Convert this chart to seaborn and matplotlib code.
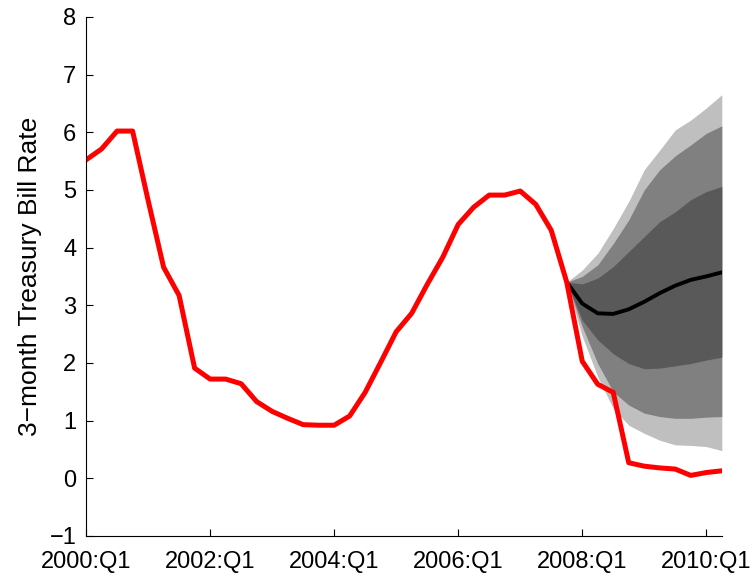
import numpy as np
import pandas as pd
import seaborn as sns
import matplotlib
matplotlib.use("Agg")
import matplotlib.pyplot as plt

# quarterly 3-month T-bill rate, 2000:Q1 .. 2010:Q2
actual = [5.52, 5.71, 6.02, 6.02, 4.82, 3.66, 3.17, 1.91,
          1.72, 1.72, 1.64, 1.33, 1.16, 1.04, 0.93, 0.92,
          0.92, 1.08, 1.49, 2.01, 2.54, 2.86, 3.36, 3.83,
          4.40, 4.70, 4.91, 4.91, 4.98, 4.75, 4.30, 3.40,
          2.03, 1.63, 1.49, 0.27, 0.21, 0.18, 0.16, 0.05,
          0.10, 0.13]

# forecast starts at 2007:Q4 (index 31)
fc_start = 31
median = [3.40, 3.03, 2.86, 2.85, 2.93, 3.06, 3.21, 3.34, 3.44, 3.50, 3.57]
light_hi = [3.40, 3.61, 3.90, 4.33, 4.80, 5.35, 5.69, 6.04, 6.21, 6.42, 6.65]
mid_hi = [3.40, 3.50, 3.70, 4.07, 4.48, 5.00, 5.35, 5.59, 5.78, 5.98, 6.11]
dark_hi = [3.40, 3.37, 3.47, 3.67, 3.93, 4.19, 4.45, 4.62, 4.83, 4.97, 5.06]
dark_lo = [3.40, 2.74, 2.40, 2.16, 1.99, 1.90, 1.91, 1.95, 1.99, 2.05, 2.10]
mid_lo = [3.40, 2.63, 1.99, 1.50, 1.27, 1.13, 1.07, 1.04, 1.04, 1.06, 1.07]
light_lo = [3.40, 2.46, 1.76, 1.21, 0.92, 0.78, 0.66, 0.58, 0.57, 0.55, 0.48]

tick_pos = [0, 8, 16, 24, 32, 40]
tick_labels = ["2000:Q1", "2002:Q1", "2004:Q1", "2006:Q1", "2008:Q1", "2010:Q1"]

sns.set_style("ticks")
plt.rcParams["font.family"] = ["Liberation Sans", "DejaVu Sans"]
plt.rcParams["text.color"] = "black"
plt.rcParams["axes.labelcolor"] = "black"
plt.rcParams["xtick.color"] = "black"
plt.rcParams["ytick.color"] = "black"
plt.rcParams["axes.edgecolor"] = "black"

hist = pd.DataFrame({"q": np.arange(len(actual)), "rate": actual})
fc = pd.DataFrame({"q": np.arange(fc_start, fc_start + len(median)),
                   "median": median,
                   "light_hi": light_hi, "light_lo": light_lo,
                   "mid_hi": mid_hi, "mid_lo": mid_lo,
                   "dark_hi": dark_hi, "dark_lo": dark_lo})

fig = plt.figure(figsize=(7.55, 5.81), dpi=100)
ax = fig.add_axes([0.114, 0.0775, 0.842, 0.8935])

# fan chart bands
ax.fill_between(fc["q"], fc["light_lo"], fc["light_hi"], color="#bfbfbf", lw=0)
ax.fill_between(fc["q"], fc["mid_lo"], fc["mid_hi"], color="#808080", lw=0)
ax.fill_between(fc["q"], fc["dark_lo"], fc["dark_hi"], color="#595959", lw=0)

sns.lineplot(data=fc, x="q", y="median", color="black", lw=2.8, ax=ax)
sns.lineplot(data=hist, x="q", y="rate", color="#ff0000", lw=3.6, ax=ax)

ax.set_xlim(0, 41)
ax.set_ylim(-1, 8)
ax.set_xticks(tick_pos)
ax.set_xticklabels(tick_labels)
ax.set_yticks(range(-1, 9))
ax.tick_params(direction="in", length=5, width=0.8, labelsize=17)
ax.tick_params(axis="x", pad=11)
ax.tick_params(axis="y", pad=7)
ax.set_xlabel("")
ax.set_ylabel("3\u2212month Treasury Bill Rate", fontsize=19)
ax.yaxis.set_label_coords(-0.07, 0.5)
sns.despine(ax=ax)
for s in ["left", "bottom"]:
    ax.spines[s].set_linewidth(0.8)

fig.savefig("out.png", dpi=100)
